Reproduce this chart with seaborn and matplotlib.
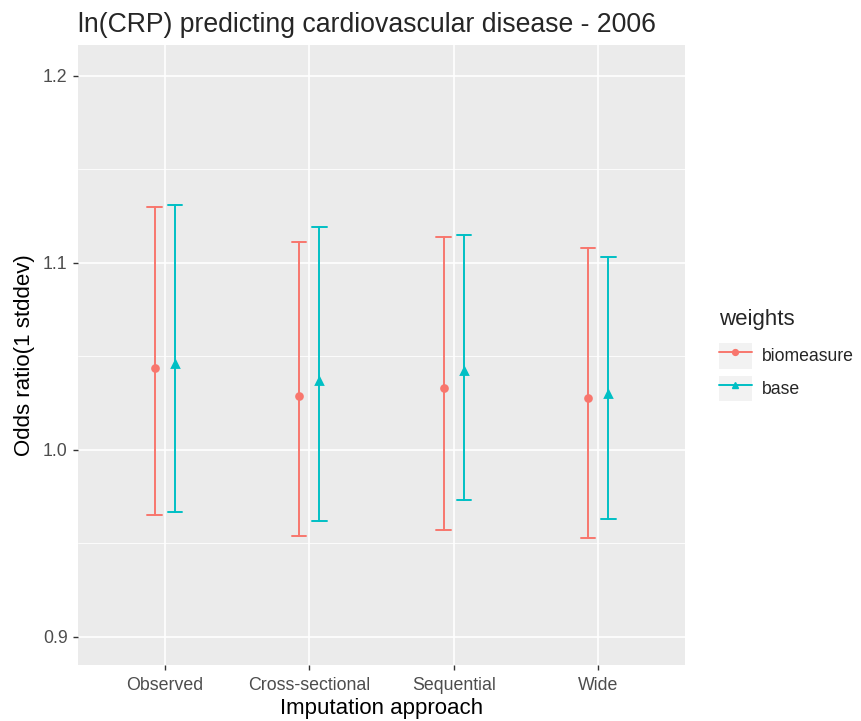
import pandas as pd
import seaborn as sns
import matplotlib.pyplot as plt
from matplotlib.lines import Line2D
from matplotlib.patches import Rectangle
from matplotlib.legend_handler import HandlerTuple
from matplotlib.ticker import MultipleLocator

approaches = ["Observed", "Cross-sectional", "Sequential", "Wide"]
weights = ["biomeasure", "base"]

bio_est = [1.044, 1.029, 1.033, 1.028]
bio_lo = [0.965, 0.954, 0.957, 0.953]
bio_hi = [1.130, 1.111, 1.114, 1.108]

base_est = [1.046, 1.037, 1.042, 1.030]
base_lo = [0.967, 0.962, 0.973, 0.963]
base_hi = [1.131, 1.119, 1.115, 1.103]

colors = ["#F8766D", "#00BFC4"]


def build_frame():
    # three rows per group: lower, estimate, upper -> median / full range
    rows = []
    series = {"biomeasure": (bio_lo, bio_est, bio_hi), "base": (base_lo, base_est, base_hi)}
    for w in weights:
        lo, est, hi = series[w]
        for i, a in enumerate(approaches):
            for v in (lo[i], est[i], hi[i]):
                rows.append({"approach": a, "weights": w, "value": v})
    return pd.DataFrame(rows)


def main():
    sns.set_theme(style="darkgrid", rc={
        "axes.facecolor": "#EBEBEB",
        "grid.color": "white",
        "axes.edgecolor": "none",
        "xtick.bottom": True, "ytick.left": True,
        "xtick.color": "#333333", "ytick.color": "#333333",
        "xtick.major.size": 3.5, "ytick.major.size": 3.5,
        "xtick.major.width": 1, "ytick.major.width": 1,
    })
    plt.rcParams["font.family"] = ["Liberation Sans", "DejaVu Sans"]

    df = build_frame()
    fig = plt.figure(figsize=(8.62, 7.21), dpi=100)
    ax = fig.add_axes([0.0905, 0.0777, 0.7042, 0.8599])

    sns.pointplot(
        data=df, x="approach", y="value", hue="weights",
        order=approaches, hue_order=weights, palette=colors,
        estimator="median", errorbar=("pi", 100),
        dodge=0.14, linestyle="none", markers=["o", "^"],
        capsize=0.1, err_kws={"linewidth": 1.4},
        markersize=4.2, legend=False, ax=ax,
    )

    ax.set_xlim(-0.6, 3.6)
    ax.set_ylim(0.885, 1.2165)
    ax.yaxis.set_major_locator(MultipleLocator(0.1))
    ax.yaxis.set_minor_locator(MultipleLocator(0.05))
    ax.grid(which="major", color="white", linewidth=1.2)
    ax.grid(which="minor", axis="y", color="white", linewidth=0.6)
    ax.grid(which="minor", axis="x", visible=False)
    ax.tick_params(axis="y", which="minor", left=False)
    ax.set_axisbelow(True)
    for s in ax.spines.values():
        s.set_visible(False)

    ax.tick_params(axis="both", labelsize=12.8, labelcolor="#4D4D4D")
    ax.tick_params(axis="x", pad=5)
    ax.tick_params(axis="y", pad=4)
    ax.set_yticklabels([f"{t:.1f}" for t in ax.get_yticks()])
    ax.set_xlabel("Imputation approach", fontsize=16, color="black", labelpad=3)
    ax.set_ylabel("Odds ratio(1 stddev)", fontsize=16, color="black", labelpad=6)
    ax.set_title("ln(CRP) predicting cardiovascular disease - 2006",
                 fontsize=19.2, loc="left", x=0.0, pad=9)

    handles = []
    for c, m in zip(colors, ["o", "^"]):
        bg = Rectangle((0, 0), 1, 1, facecolor="#F2F2F2", edgecolor="none")
        ln = Line2D([], [], color=c, marker=m, markersize=4.2, linewidth=1.4)
        handles.append((bg, ln))
    leg = fig.legend(
        handles, weights, title="weights",
        handler_map={tuple: HandlerTuple(ndivide=1, pad=0)},
        loc="upper left", bbox_to_anchor=(0.824, 0.583),
        frameon=False, fontsize=12.7, title_fontsize=16,
        handlelength=1.85, handleheight=1.85, handletextpad=0.6,
        labelspacing=0.4, borderpad=0,
    )
    leg._legend_box.align = "left"
    leg._legend_box.sep = 9

    fig.savefig("out.png", dpi=100)


if __name__ == "__main__":
    main()
